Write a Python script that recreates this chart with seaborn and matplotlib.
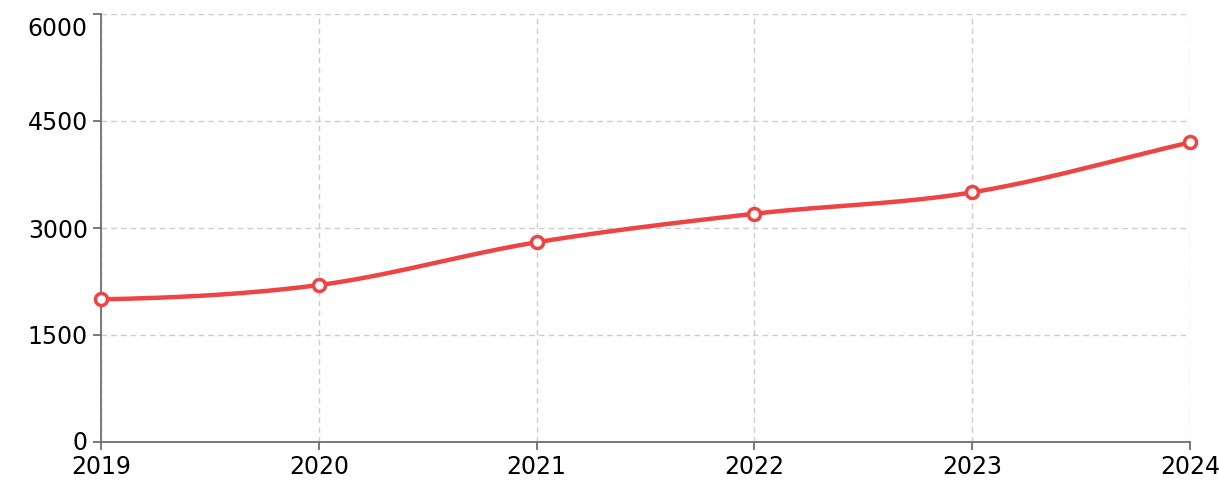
import numpy as np
import pandas as pd
import matplotlib
matplotlib.use("Agg")
import matplotlib.pyplot as plt
import matplotlib.transforms as mtransforms
import seaborn as sns

years = [2019, 2020, 2021, 2022, 2023, 2024]
values = [2000, 2200, 2800, 3200, 3500, 4200]
y_ticks = [0, 1500, 3000, 4500, 6000]

sns.set_theme(style="white")
plt.rcParams['font.family'] = ['DejaVu Sans']

W, H = 1219, 492
fig = plt.figure(figsize=(W / 100, H / 100), dpi=100)
ax = fig.add_axes([101 / W, 1 - 442 / H, (1190 - 101) / W, (442 - 14) / H])

# smooth curve (cubic Hermite spline through the data points)
x = np.array(years, dtype=float)
y = np.array(values, dtype=float)
n = len(x)
m = np.zeros(n)
for i in range(n):
    if i == 0:
        m[i] = (y[1] - y[0]) / (x[1] - x[0])
    elif i == n - 1:
        m[i] = (y[-1] - y[-2]) / (x[-1] - x[-2])
    else:
        m[i] = (y[i + 1] - y[i - 1]) / (x[i + 1] - x[i - 1])
m[0] *= 0.3
xs, ys = [], []
for i in range(n - 1):
    h = x[i + 1] - x[i]
    t = np.linspace(0, 1, 40, endpoint=(i == n - 2))
    h00 = 2 * t**3 - 3 * t**2 + 1
    h10 = t**3 - 2 * t**2 + t
    h01 = -2 * t**3 + 3 * t**2
    h11 = t**3 - t**2
    xs.extend(x[i] + t * h)
    ys.extend(h00 * y[i] + h10 * h * m[i] + h01 * y[i + 1] + h11 * h * m[i + 1])
curve = pd.DataFrame({"year": xs, "value": ys})
pts = pd.DataFrame({"year": years, "value": values})

red = "#ee4444"
sns.lineplot(data=curve, x="year", y="value", ax=ax, color=red, linewidth=3.2, zorder=3)
sns.scatterplot(data=pts, x="year", y="value", ax=ax, s=75, facecolor="white",
                edgecolor=red, linewidth=2.5, zorder=4, clip_on=False)

ax.set_xlim(2019, 2024)
ax.set_ylim(0, 6000)
ax.set_xticks(years)
ax.set_xticklabels([str(v) for v in years])
ax.set_yticks(y_ticks)
ax.set_yticklabels([str(v) for v in y_ticks])
ax.set_xlabel("")
ax.set_ylabel("")

ax.grid(True, color="#cccccc", linestyle=(0, (4, 3)), linewidth=1)
ax.set_axisbelow(True)
for s in ["top", "right"]:
    ax.spines[s].set_visible(False)
for s in ["left", "bottom"]:
    ax.spines[s].set_color("#6e6e6e")
    ax.spines[s].set_linewidth(1.3)
ax.tick_params(axis="both", which="both", direction="out", length=5.5, width=1.3,
               color="#6e6e6e", labelsize=17, labelcolor="black")
ax.tick_params(axis="x", bottom=True, pad=3.5)
ax.tick_params(axis="y", left=True, pad=4)

# top y label sits slightly below its tick, bottom one slightly above
ylabels = ax.get_yticklabels()
ylabels[-1].set_transform(ylabels[-1].get_transform() +
                          mtransforms.ScaledTranslation(0, -12 / 100, fig.dpi_scale_trans))
ylabels[0].set_transform(ylabels[0].get_transform() +
                         mtransforms.ScaledTranslation(0, 1 / 100, fig.dpi_scale_trans))

fig.savefig("out.png", dpi=100)
